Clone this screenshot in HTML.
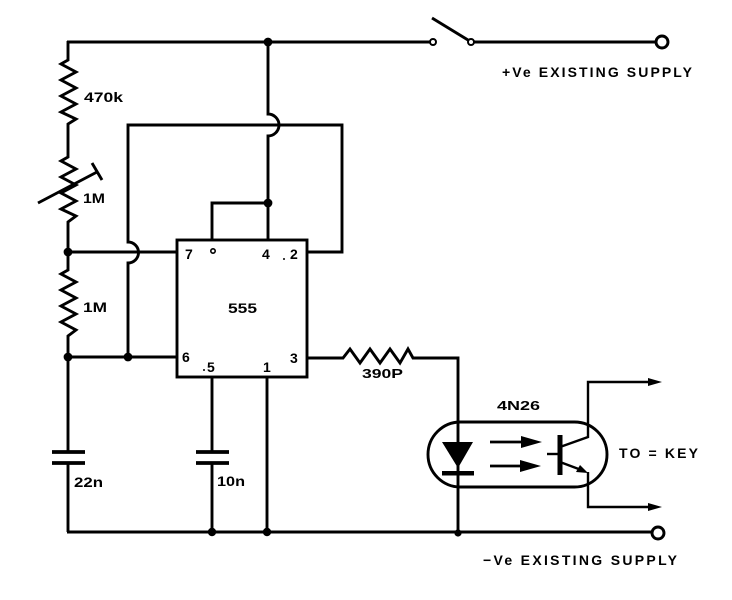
<!DOCTYPE html>
<html>
<head>
<meta charset="utf-8">
<style>
  html,body{margin:0;padding:0;background:#fff;}
  svg{display:block;}
  text{font-family:"Liberation Sans",Arial,sans-serif;font-weight:bold;fill:#000;}
</style>
</head>
<body>
<svg width="732" height="600" viewBox="0 0 732 600" xmlns="http://www.w3.org/2000/svg">
  <g fill="none" stroke="#000" stroke-width="2.9" stroke-linejoin="miter" stroke-linecap="butt">
    <!-- top rail -->
    <path d="M67,42 H430"/>
    <path d="M474,42 H656"/>
    <!-- switch -->
    <circle cx="433" cy="42" r="3" stroke-width="2"/>
    <circle cx="471" cy="42" r="3" stroke-width="2"/>
    <path d="M432,18 L468,40"/>
    <circle cx="662" cy="42" r="6"/>

    <!-- left vertical chain -->
    <path d="M68,41 V60 L61,64 L76,72 L61,80 L76,88 L61,96 L76,104 L61,112 L76,119 L68,124 V157 L61,161 L76,169 L61,177 L76,185 L61,193 L76,201 L61,209 L76,216 L68,222 V270 L61,274 L76,282 L61,290 L76,298 L61,306 L76,314 L61,322 L76,330 L68,336 V452"/>
    <path d="M68,463 V532"/>
    <!-- variable arrow -->
    <path d="M38,203 L97,172"/>
    <path d="M92,163 L102,180"/>

    <!-- capacitor 22n -->
    <path d="M52,452 H85" stroke-width="3.8"/>
    <path d="M52,463 H85" stroke-width="3.8"/>

    <!-- bottom rail -->
    <path d="M67,532 H652"/>
    <circle cx="658" cy="533" r="6"/>

    <!-- pin 7 line -->
    <path d="M68,252 H177"/>
    <!-- pin 6 line -->
    <path d="M68,357 H177"/>

    <!-- box around -->
    <path d="M128,357 V263 A10,10 0 0 0 128,242 V125 H342 V252 H307"/>

    <!-- vertical from top rail to pin4 with hop -->
    <path d="M268,42 V114 A11,11 0 0 1 268,136 V240"/>
    <!-- small loop to pin 8 -->
    <path d="M268,203 H212 V240"/>

    <!-- chip -->
    <rect x="177" y="240" width="130" height="137"/>

    <!-- pin 5 and cap -->
    <path d="M212,377 V452"/>
    <path d="M212,463 V532"/>
    <path d="M196,452 H229" stroke-width="3.8"/>
    <path d="M196,463 H229" stroke-width="3.8"/>
    <!-- pin 1 -->
    <path d="M267,377 V532"/>

    <!-- pin 3 resistor -->
    <path d="M307,358 H343 L350,349 L360,363 L370,349 L380,363 L390,349 L400,363 L408,349 L413,358 H458 V533"/>

    <!-- optocoupler capsule -->
    <rect x="428" y="422" width="179" height="65" rx="32.5" ry="32.5"/>

    <!-- arrows lines -->
    <path d="M490,442 H524" stroke-width="2.8"/>
    <path d="M490,466 H523" stroke-width="2.8"/>

    <!-- transistor -->
    <path d="M547,454 H560" stroke-width="2.4"/>
    <path d="M560,447 L588,437 V382 H652" stroke-width="2.4"/>
    <path d="M560,462 L584,471" stroke-width="2.4"/>
    <path d="M588,472 V507 H652" stroke-width="2.4"/>
  </g>

  <g fill="#000" stroke="none">
    <!-- junction dots -->
    <circle cx="268" cy="42" r="4.4"/>
    <circle cx="268" cy="203" r="4.4"/>
    <circle cx="68" cy="252" r="4.4"/>
    <circle cx="68" cy="357" r="4.4"/>
    <circle cx="128" cy="357" r="4.4"/>
    <circle cx="212" cy="532" r="4.2"/>
    <circle cx="267" cy="532" r="4.2"/>
    <circle cx="458" cy="533" r="3.6"/>

    <!-- diode -->
    <polygon points="442,442 473,442 458,468"/>
    <rect x="442" y="471" width="32" height="4.5"/>

    <!-- light arrows heads -->
    <polygon points="521,436 542,442 521,448"/>
    <polygon points="520,460 541,466 520,472"/>

    <!-- transistor base bar -->
    <rect x="557.5" y="435" width="5" height="40"/>
    <!-- emitter arrow -->
    <polygon points="576,472 588,473 580,465"/>

    <!-- output arrows -->
    <polygon points="648,378 662,382 648,386"/>
    <polygon points="648,503 662,507 648,511"/>
  </g>

  <!-- small pin-8 circle on chip -->
  <circle cx="213" cy="251" r="2.2" fill="none" stroke="#000" stroke-width="1.6"/>
  <circle cx="284" cy="259" r="1" fill="#000"/>
  <circle cx="204" cy="370" r="1" fill="#000"/>

  <!-- labels -->
  <text x="84" y="102" font-size="14" textLength="39" lengthAdjust="spacingAndGlyphs">470k</text>
  <text x="83" y="203" font-size="14" textLength="22" lengthAdjust="spacingAndGlyphs">1M</text>
  <text x="83" y="312" font-size="14" textLength="24" lengthAdjust="spacingAndGlyphs">1M</text>
  <text x="74" y="487" font-size="14" textLength="29" lengthAdjust="spacingAndGlyphs">22n</text>
  <text x="217" y="486" font-size="14" textLength="28" lengthAdjust="spacingAndGlyphs">10n</text>

  <text x="185" y="259" font-size="14">7</text>
  <text x="262" y="259" font-size="14">4</text>
  <text x="290" y="259" font-size="14">2</text>
  <text x="228" y="313" font-size="14" textLength="29" lengthAdjust="spacingAndGlyphs">555</text>
  <text x="182" y="362" font-size="14">6</text>
  <text x="207" y="372" font-size="14">5</text>
  <text x="263" y="372" font-size="14">1</text>
  <text x="290" y="363" font-size="14">3</text>

  <text x="362" y="378" font-size="12.5" textLength="41" lengthAdjust="spacingAndGlyphs">390P</text>
  <text x="497" y="410" font-size="12.5" textLength="43" lengthAdjust="spacingAndGlyphs">4N26</text>
  <text x="619" y="458" font-size="14" textLength="79" lengthAdjust="spacing">TO = KEY</text>

  <text x="502" y="77" font-size="14" textLength="190" lengthAdjust="spacing">+Ve EXISTING SUPPLY</text>
  <text x="483" y="565" font-size="14" textLength="194" lengthAdjust="spacing">−Ve EXISTING SUPPLY</text>
</svg>
</body>
</html>
